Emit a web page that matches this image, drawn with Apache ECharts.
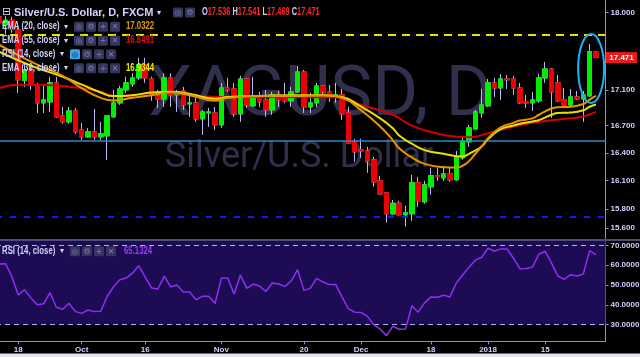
<!DOCTYPE html>
<html><head><meta charset="utf-8">
<script src="https://cdn.jsdelivr.net/npm/echarts@6/dist/echarts.min.js"></script>
<style>html,body{margin:0;padding:0;background:#000;}#c{width:640px;height:357px;}</style>
</head><body><div id="c"></div>
<script>
// ---------------- DATA ----------------
const dates = [
'2017-09-13','2017-09-14','2017-09-15','2017-09-18','2017-09-19','2017-09-20','2017-09-21','2017-09-22','2017-09-25','2017-09-26','2017-09-27','2017-09-28','2017-09-29',
'2017-10-02','2017-10-03','2017-10-04','2017-10-05','2017-10-06','2017-10-09','2017-10-10','2017-10-11','2017-10-12','2017-10-13','2017-10-16','2017-10-17','2017-10-18','2017-10-19','2017-10-20','2017-10-23','2017-10-24','2017-10-25','2017-10-26','2017-10-27','2017-10-30','2017-10-31',
'2017-11-01','2017-11-02','2017-11-03','2017-11-06','2017-11-07','2017-11-08','2017-11-09','2017-11-10','2017-11-13','2017-11-14','2017-11-15','2017-11-16','2017-11-17','2017-11-20','2017-11-21','2017-11-22','2017-11-23','2017-11-24','2017-11-27','2017-11-28','2017-11-29','2017-11-30',
'2017-12-01','2017-12-04','2017-12-05','2017-12-06','2017-12-07','2017-12-08','2017-12-11','2017-12-12','2017-12-13','2017-12-14','2017-12-15','2017-12-18','2017-12-19','2017-12-20','2017-12-21','2017-12-22','2017-12-26','2017-12-27','2017-12-28','2017-12-29',
'2018-01-02','2018-01-03','2018-01-04','2018-01-05','2018-01-08','2018-01-09','2018-01-10','2018-01-11','2018-01-12','2018-01-15','2018-01-16','2018-01-17','2018-01-18','2018-01-19','2018-01-22','2018-01-23','2018-01-24','2018-01-25',
'2018-01-26'];

const openP = [17.95,17.86,17.91,17.795,17.206,17.328,17.157,16.953,16.964,17.18,16.808,16.741,16.863,
16.652,16.575,16.63,16.575,16.586,16.797,16.953,17.10,17.168,17.237,17.387,17.225,17.032,16.998,17.237,17.044,17.088,16.942,16.953,16.774,16.841,16.841,
16.708,17.122,17.111,16.83,17.225,16.92,17.032,16.987,16.874,17.044,17.01,16.976,17.077,17.305,16.908,16.953,17.145,17.077,17.021,17.044,16.841,16.52,
16.432,16.421,16.324,16.098,15.97,15.749,15.86,15.739,15.749,16.077,15.875,16.034,16.152,16.13,16.173,16.109,16.345,16.52,16.663,16.841,
16.92,17.18,17.122,17.225,17.225,17.122,16.964,16.953,16.976,17.237,17.339,17.18,16.987,16.93,17.021,16.998,17.032,17.536];
const highP = [18.02,17.96,17.95,17.82,17.41,17.37,17.18,17.16,17.25,17.25,16.908,16.908,16.896,
16.73,16.674,16.885,16.74,16.81,17.10,17.145,17.25,17.29,17.47,17.47,17.25,17.10,17.29,17.29,17.10,17.134,17.066,17.01,16.874,16.897,16.908,
17.18,17.237,17.18,17.26,17.237,17.25,17.077,17.10,17.077,17.088,17.18,17.134,17.375,17.328,17.066,17.18,17.157,17.157,17.18,17.111,16.908,16.553,
16.553,16.465,16.356,16.152,15.98,15.896,15.886,15.834,16.163,16.141,16.098,16.238,16.238,16.26,16.249,16.421,16.575,16.708,16.874,17.111,
17.225,17.237,17.28,17.27,17.26,17.18,17.044,17.077,17.28,17.42,17.35,17.27,17.122,17.111,17.088,17.088,17.63,17.541];
const lowP = [17.84,17.74,17.76,17.066,17.134,17.10,16.84,16.84,16.85,16.786,16.72,16.72,16.608,
16.542,16.564,16.542,16.542,16.324,16.786,16.93,17.066,17.134,17.214,17.18,16.976,16.897,16.908,16.908,16.852,16.874,16.797,16.741,16.597,16.685,16.652,
16.674,17.077,16.797,16.741,16.897,16.908,16.908,16.797,16.819,16.908,16.953,16.908,17.066,16.84,16.84,16.908,17.021,16.964,16.953,16.763,16.509,16.302,
16.345,16.184,16.034,15.949,15.656,15.739,15.729,15.615,15.677,15.823,15.855,15.949,16.098,16.098,16.087,16.098,16.324,16.465,16.652,16.786,
16.908,17.021,16.987,17.111,17.044,16.942,16.897,16.863,16.953,17.18,16.786,16.964,16.92,16.908,16.987,16.741,17.021,17.469];
const closeP = [17.88,17.91,17.80,17.214,17.328,17.157,16.953,16.987,17.18,16.797,16.741,16.863,16.63,
16.575,16.63,16.575,16.608,16.808,16.953,17.111,17.18,17.237,17.387,17.237,17.044,16.998,17.237,17.044,17.077,16.93,16.953,16.774,16.852,16.852,16.708,
17.122,17.10,16.83,17.225,16.93,17.032,16.964,16.874,17.044,16.987,16.976,17.077,17.305,16.908,16.953,17.145,17.077,17.021,17.044,16.83,16.509,16.41,
16.421,16.313,16.087,15.959,15.749,15.86,15.739,15.76,16.077,15.886,16.055,16.152,16.141,16.173,16.109,16.356,16.531,16.674,16.852,16.93,
17.18,17.122,17.225,17.214,17.122,16.953,16.953,16.987,17.237,17.339,17.077,16.976,16.93,17.021,16.998,17.044,17.54,17.471];

const rsi = [60.5,60.7,54.3,45.0,47.6,43.5,40.0,40.5,46.2,38.8,37.8,40.8,36.6,
35.7,37.4,36.6,36.8,44.2,49.0,52.6,53.5,56.0,59.7,54.0,48.5,48.0,54.5,49.0,50.0,46.5,46.5,42.5,44.3,44.3,40.7,
53.5,53.5,45.5,55.0,48.3,50.5,49.5,46.7,51.0,50.5,49.3,52.0,57.7,47.3,48.3,53.3,51.5,50.2,50.3,44.0,38.0,36.3,
36.2,34.2,30.0,27.8,24.5,29.2,27.7,27.8,39.5,36.3,41.0,44.0,43.8,44.8,44.0,51.0,55.0,59.0,62.5,64.0,
68.5,67.0,68.2,68.2,63.5,58.2,58.3,59.0,65.5,67.0,61.0,54.5,52.8,55.2,54.5,55.5,67.3,65.1324];

// EMA readings: [candle index, price]
const ema20Pts = [[0,17.62],[3,17.50],[6,17.39],[10,17.26],[13,17.12],[16,17.01],[18,16.98],[21,17.01],[24,17.04],[27,17.07],[30,17.04],[34,16.98],[36,17.01],[41,17.03],[46,17.03],[51,17.04],[54,17.01],[57,16.87],[60,16.69],[62,16.54],[63,16.45],[65,16.35],[67,16.28],[70,16.245],[72,16.24],[73,16.26],[74,16.31],[75,16.39],[76,16.47],[77,16.56],[79,16.68],[81,16.73],[82,16.755],[84,16.78],[85,16.82],[87,16.89],[88,16.905],[90,16.91],[92,16.94],[93,16.99],[94,17.0322]];
const ema30Pts = [[0,17.54],[3,17.44],[6,17.35],[10,17.25],[13,17.16],[16,17.07],[18,17.03],[21,17.04],[24,17.07],[27,17.08],[30,17.055],[34,17.0],[36,17.02],[41,17.03],[46,17.04],[51,17.04],[54,17.02],[57,16.91],[60,16.78],[62,16.67],[63,16.59],[65,16.50],[67,16.43],[70,16.39],[73,16.36],[74,16.39],[76,16.47],[77,16.55],[79,16.66],[81,16.70],[82,16.72],[84,16.745],[85,16.76],[87,16.82],[88,16.84],[90,16.845],[92,16.87],[93,16.91],[94,16.9344]];
const ema55Pts = [[0,17.12],[3,17.16],[6,17.16],[10,17.145],[13,17.12],[16,17.08],[18,17.03],[21,17.04],[24,17.065],[27,17.065],[30,17.045],[35,17.02],[41,17.02],[47,17.02],[54,17.015],[55,16.98],[58,16.91],[62,16.82],[65,16.70],[68,16.63],[71,16.585],[74,16.57],[77,16.615],[81,16.69],[84,16.73],[87,16.76],[90,16.78],[92,16.80],[93,16.826],[94,16.8491]];

const priceTicks = [18.0,17.1,16.7,16.4,16.1,15.8,15.6];
const rsiTicks = [30,40,50,60,70];
const xTickDates = ['2017-09-18','2017-10-02','2017-10-16','2017-11-01','2017-11-20','2017-12-01','2017-12-18','2018-01-02','2018-01-15'];
const xTickLabels = ['18','Oct','16','Nov','20','Dec','18','2018','15'];
const levelYellowDash = 17.735, levelBlue = 16.527, levelBlueDash = 15.72;
const rsiUpper = 70, rsiLower = 30;

// ---------------- CHART ----------------
const L = Math.log;
const priceMin = 15.488, priceMax = 18.152, rsiMin = 21.64, rsiMax = 72.17;
const SANS = '"Liberation Sans",Arial,sans-serif';
const LAV = '#d2d2ff', AXIS = '#8a8aea';
const N = openP.length;
const wickData = [], bodyData = [];
for (let i = 0; i < N; i++) {
  wickData.push([L(openP[i]), L(closeP[i]), L(lowP[i]), L(highP[i])]);
  bodyData.push([L(openP[i]), L(closeP[i]), L(Math.min(openP[i], closeP[i])), L(Math.max(openP[i], closeP[i]))]);
}
const lnPts = a => a.map(p => [p[0], L(p[1])]);
const labelMap = {}; xTickDates.forEach((d, i) => labelMap[d] = xTickLabels[i]);
const tickFn = (idx, val) => labelMap[val] !== undefined;

const chart = echarts.init(document.getElementById('c'), null, {renderer: 'canvas', width: 640, height: 357});
const axLabel = {color: LAV, fontFamily: SANS, fontWeight: 'bold', fontSize: 8};
chart.setOption({
  backgroundColor: '#000',
  animation: false,
  grid: [
    {left: -4, right: 34.5, top: 0, height: 239, outerBoundsMode: 'none', containLabel: false},
    {left: -4, right: 34.5, top: 241, height: 100.3, outerBoundsMode: 'none', containLabel: false}
  ],
  xAxis: [
    {type: 'category', gridIndex: 0, data: dates, boundaryGap: true, axisLine: {show: false}, axisTick: {show: false}, axisLabel: {show: false}, splitLine: {show: false}},
    {type: 'category', gridIndex: 1, data: dates, boundaryGap: true,
      axisLine: {show: true, lineStyle: {color: AXIS, width: 1}},
      axisTick: {show: true, interval: tickFn, alignWithLabel: true, length: 3, lineStyle: {color: AXIS}},
      axisLabel: Object.assign({interval: tickFn, margin: 4, formatter: v => labelMap[v] || ''}, axLabel),
      splitLine: {show: false}}
  ],
  yAxis: [
    {type: 'value', gridIndex: 0, position: 'right', min: L(priceMin), max: L(priceMax), scale: true,
      axisLine: {show: true, lineStyle: {color: AXIS, width: 1}},
      axisTick: {show: true, length: 3, customValues: priceTicks.map(L), lineStyle: {color: AXIS}},
      axisLabel: Object.assign({customValues: priceTicks.map(L), margin: 5, formatter: v => Math.exp(v).toFixed(3)}, axLabel),
      splitLine: {show: false}},
    {type: 'value', gridIndex: 1, position: 'right', min: rsiMin, max: rsiMax,
      axisLine: {show: true, lineStyle: {color: AXIS, width: 1}},
      axisTick: {show: true, length: 3, customValues: rsiTicks, lineStyle: {color: AXIS}},
      axisLabel: Object.assign({customValues: rsiTicks, margin: 5, formatter: v => v.toFixed(4)}, axLabel),
      splitLine: {show: false}}
  ],
  series: [
    {type: 'candlestick', name: 'wick', xAxisIndex: 0, yAxisIndex: 0, data: wickData, barWidth: 5, z: 3,
      itemStyle: {color: '#b8b8f4', color0: '#b8b8f4', borderColor: '#b8b8f4', borderColor0: '#b8b8f4', borderWidth: 1},
      markLine: {silent: true, precision: 10, symbol: ['none', 'none'], label: {show: false}, animation: false,
        data: [
          {yAxis: L(levelYellowDash), lineStyle: {color: '#e4e400', width: 2, type: [8, 6]}},
          {yAxis: L(levelBlue), lineStyle: {color: '#2f86cc', width: 1.6, type: 'solid'}},
          {yAxis: L(levelBlueDash), lineStyle: {color: '#1818ff', width: 2, type: [6, 8]}}
        ]}},
    {type: 'candlestick', name: 'body', xAxisIndex: 0, yAxisIndex: 0, data: bodyData, barWidth: 5, z: 4,
      itemStyle: {color: '#00ee00', color0: '#ee0000', borderColor: '#00ee00', borderColor0: '#ee0000', borderWidth: 1}},
    {type: 'line', name: 'EMA55', xAxisIndex: 0, yAxisIndex: 0, data: lnPts(ema55Pts), smooth: true, showSymbol: false, z: 5,
      lineStyle: {color: '#d40000', width: 2}},
    {type: 'line', name: 'EMA30', xAxisIndex: 0, yAxisIndex: 0, data: lnPts(ema30Pts), smooth: true, showSymbol: false, z: 5,
      lineStyle: {color: '#e8e000', width: 2}},
    {type: 'line', name: 'EMA20', xAxisIndex: 0, yAxisIndex: 0, data: lnPts(ema20Pts), smooth: true, showSymbol: false, z: 5,
      lineStyle: {color: '#e89400', width: 2}},
    {type: 'line', name: 'RSI', xAxisIndex: 1, yAxisIndex: 1, data: rsi, showSymbol: false, z: 5,
      lineStyle: {color: '#8f2ef5', width: 1.5},
      markArea: {silent: true, precision: 10, itemStyle: {color: '#1d0b53'}, data: [[{yAxis: rsiLower}, {yAxis: rsiMax}]]},
      markLine: {silent: true, precision: 10, symbol: ['none', 'none'], label: {show: false},
        lineStyle: {color: '#b4acff', width: 1, type: [5, 4]},
        data: [{yAxis: rsiUpper}, {yAxis: rsiLower}]}}
  ]
});

// ---------------- ANNOTATIONS ----------------
const px = (i, p) => chart.convertToPixel({gridIndex: 0}, [i, L(p)]);
const G = [];
function T(x, y, text, fill, font, extra) {
  G.push(Object.assign({type: 'text', x: x, y: y, z: 100, silent: true,
    style: {text: text, fill: fill, font: font, align: 'left', verticalAlign: 'middle', textAlign: 'left', textVerticalAlign: 'middle'}}, extra || {}));
}
function icon(x, yc, glyph, bg, fg) {
  G.push({type: 'rect', z: 100, silent: true, shape: {x: x, y: yc - 5, width: 10, height: 10, r: 1.5}, style: {fill: bg}});
  G.push({type: 'text', z: 101, silent: true, x: x + 5, y: yc + 0.5,
    style: {text: glyph, fill: fg, font: '8px "DejaVu Sans",sans-serif', align: 'center', verticalAlign: 'middle', textAlign: 'center', textVerticalAlign: 'middle'}});
}
const ICON_BG = '#35355e', ICON_FG = '#7d7db0';
const B = 'bold 10px ' + SANS;
const SQ = {scaleX: 0.78};
// watermark
G.push({type: 'text', z: 0, silent: true, x: 320, y: 97,
  style: {text: 'XAGUSD, D', fill: '#30304c', font: '70px Roboto, sans-serif', align: 'center', verticalAlign: 'middle', textAlign: 'center', textVerticalAlign: 'middle'}});
G.push({type: 'text', z: 0, silent: true, x: 299, y: 158,
  style: {text: 'Silver/U.S. Dollar', fill: '#30304c', font: '36px Roboto, sans-serif', align: 'center', verticalAlign: 'middle', textAlign: 'center', textVerticalAlign: 'middle'}});
// title row
const last = N - 1;
T(2, 12.5, '⊟', LAV, '11px "DejaVu Sans",sans-serif');
T(14, 12.5, 'Silver/U.S. Dollar, D, FXCM', LAV, 'bold 11px ' + SANS);
T(157, 12.5, '▾', LAV, '8px "DejaVu Sans",sans-serif');
icon(173, 12.5, '◎', ICON_BG, ICON_FG); icon(185, 12.5, '⚙', ICON_BG, ICON_FG);
G.push({type: 'text', z: 100, silent: true, x: 202, y: 12.5, scaleX: 0.74,
  style: {text: '{l|O}{v|' + openP[last].toFixed(3) + '} {l|H}{v|' + highP[last].toFixed(3) + '} {l|L}{v|' + lowP[last].toFixed(3) + '} {l|C}{v|' + closeP[last].toFixed(3) + '}',
    font: B, align: 'left', verticalAlign: 'middle', textAlign: 'left', textVerticalAlign: 'middle',
    rich: {l: {fill: LAV, font: B}, v: {fill: '#ff2a2a', font: B}}}});
// indicator rows
const rows = [
  {y: 26.7, name: 'EMA (20, close)', val: ema20Pts[ema20Pts.length - 1][1].toFixed(4), col: '#e09a10', ix: 74, hl: false},
  {y: 40.7, name: 'EMA (55, close)', val: ema55Pts[ema55Pts.length - 1][1].toFixed(4), col: '#d21414', ix: 74, hl: false},
  {y: 54.3, name: 'RSI (14, close)', val: null, col: null, ix: 70, hl: true},
  {y: 68.3, name: 'EMA (30, close)', val: ema30Pts[ema30Pts.length - 1][1].toFixed(4), col: '#f0f000', ix: 74, hl: false},
  {y: 251.3, name: 'RSI (14, close)', val: rsi[last].toFixed(4), col: '#9a3cff', ix: 70, hl: false, valx: 124}
];
rows.forEach(r => {
  T(2, r.y, r.name, LAV, B, SQ);
  T(r.ix - 10, r.y, '▾', LAV, '8px "DejaVu Sans",sans-serif');
  const gl = ['◎', '⚙', '+', '✕'];
  for (let k = 0; k < 4; k++) icon(r.ix + k * 12, r.y, gl[k], (r.hl && k === 0) ? '#3aa6ee' : ICON_BG, (r.hl && k === 0) ? '#0a2a50' : ICON_FG);
  if (r.val) T(r.valx || 126, r.y, r.val, r.col, B, SQ);
});
// pane separator and bottom strip
G.push({type: 'rect', z: 90, silent: true, shape: {x: 0, y: 239, width: 640, height: 2}, style: {fill: '#4c4c78'}});
G.push({type: 'rect', z: 90, silent: true, shape: {x: 0, y: 353.5, width: 640, height: 4}, style: {fill: '#e4e4ee'}});
// last price label
const pLast = px(last, closeP[last]);
G.push({type: 'rect', z: 100, silent: true, shape: {x: 606, y: pLast[1] - 5.5, width: 31, height: 11}, style: {fill: '#e81a1a'}});
G.push({type: 'text', z: 101, silent: true, x: 621.5, y: pLast[1] + 0.5,
  style: {text: closeP[last].toFixed(3), fill: '#ffffff', font: 'bold 8px ' + SANS, align: 'center', verticalAlign: 'middle', textAlign: 'center', textVerticalAlign: 'middle'}});
// highlight ellipse around the breakout candle
const eH = px(last - 1, highP[last - 1]), eL = px(last - 1, lowP[last - 1]);
G.push({type: 'ellipse', z: 95, silent: true,
  shape: {cx: eH[0] + 1.5, cy: (eH[1] + eL[1]) / 2 - 2, rx: 13, ry: (eL[1] - eH[1]) / 2 + 8},
  style: {fill: 'none', stroke: '#19b4f5', lineWidth: 2}});
chart.setOption({graphic: {elements: G}});
</script>
</body></html>
